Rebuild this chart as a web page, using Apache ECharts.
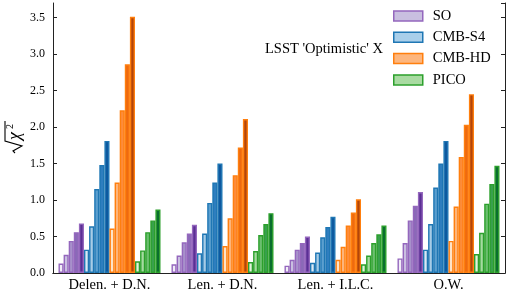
<!DOCTYPE html>
<html>
<head>
<meta charset="utf-8">
<script src="https://cdn.jsdelivr.net/npm/echarts@6/dist/echarts.min.js"></script>
<style>
html,body{margin:0;padding:0;background:#fff;}
#chart{width:509px;height:296px;}
</style>
</head>
<body>
<div id="chart"></div>
<script>
// ---- data ----
const categories = ['Delen. + D.N.', 'Len. + D.N.', 'Len. + I.L.C.', 'O.W.'];
const experiments = ['SO', 'CMB-S4', 'CMB-HD', 'PICO'];
// values[group][shade]
const soValues   = [[0.13,0.25,0.44,0.56,0.68],[0.12,0.24,0.42,0.54,0.66],[0.10,0.18,0.32,0.41,0.50],[0.20,0.41,0.72,0.92,1.11]];
const s4Values   = [[0.32,0.64,1.15,1.48,1.81],[0.27,0.54,0.96,1.24,1.50],[0.14,0.28,0.49,0.63,0.77],[0.32,0.67,1.17,1.50,1.81]];
const hdValues   = [[0.61,1.24,2.23,2.86,3.51],[0.37,0.75,1.34,1.72,2.11],[0.18,0.36,0.65,0.83,1.01],[0.44,0.91,1.59,2.03,2.45]];
const picoValues = [[0.16,0.31,0.56,0.72,0.87],[0.15,0.30,0.52,0.67,0.82],[0.12,0.24,0.41,0.53,0.65],[0.26,0.55,0.95,1.22,1.47]];
const yTicks = [0,0.5,1.0,1.5,2.0,2.5,3.0,3.5];
const annotation = "LSST 'Optimistic' X";

// ---- styles ----
const edgeColors = ['#9467bd', '#1f77b4', '#ff7f0e', '#2ca02c'];
const faceShades = [
  ['#f1edf7', '#c9bfe0', '#a791ca', '#8a6ab7', '#5b2f95'],
  ['#dae9f5', '#a7cce6', '#5b9fcf', '#2e7ebf', '#0e599f'],
  ['#fee3c8', '#fdb47a', '#fd8c3a', '#ee6a10', '#b3450a'],
  ['#e2f3dd', '#a5daa0', '#6bbf6f', '#38a04d', '#0a6e2f']
];
const legendFaces = ['#c9bfe0', '#a9cfea', '#fdb67e', '#a9dba2'];
const allValues = [soValues, s4Values, hdValues, picoValues];
const FONT = 'Liberation Serif';

const series = [];
experiments.forEach((exp, e) => {
  for (let k = 0; k < 5; k++) {
    series.push({
      type: 'bar',
      name: k === 0 ? exp : exp + ' ' + k,
      data: categories.map((c, gi) => allValues[e][gi][k]),
      barWidth: 5.1,
      barGap: '0%',
      itemStyle: { color: faceShades[e][k], borderColor: edgeColors[e], borderWidth: 1.4 },
      emphasis: { disabled: true }
    });
  }
});

const chart = echarts.init(document.getElementById('chart'), null, { renderer: 'canvas' });
chart.setOption({
  animation: false,
  backgroundColor: '#fff',
  grid: { left: 53, right: 4, top: 3, bottom: 23 },
  legend: {
    orient: 'vertical',
    left: 393,
    top: 8.5,
    padding: 0,
    itemWidth: 29,
    itemHeight: 10,
    itemGap: 6.3,
    selectedMode: false,
    textStyle: { fontFamily: FONT, fontSize: 14.5, color: '#000', lineHeight: 14, padding: [0, 0, 0, 5] },
    data: experiments.map((exp, e) => ({
      name: exp,
      icon: 'rect',
      itemStyle: { color: legendFaces[e], borderColor: edgeColors[e], borderWidth: 1.5 }
    }))
  },
  xAxis: [
    {
      type: 'category', data: categories, position: 'bottom',
      axisLine: { lineStyle: { color: '#222', width: 1 } },
      axisTick: { inside: true, alignWithLabel: true, length: 4, lineStyle: { color: '#222' } },
      axisLabel: { fontFamily: FONT, fontSize: 14.5, color: '#000', margin: 5 },
      splitLine: { show: false }
    },
    {
      type: 'category', data: categories, position: 'top',
      axisLine: { lineStyle: { color: '#222', width: 1 } },
      axisTick: { inside: true, alignWithLabel: true, length: 4, lineStyle: { color: '#222' } },
      axisLabel: { show: false },
      splitLine: { show: false }
    }
  ],
  yAxis: [
    {
      type: 'value', min: 0, max: 3.7, interval: 0.5, position: 'left',
      axisLine: { show: true, lineStyle: { color: '#222', width: 1 } },
      axisTick: { show: true, inside: true, length: 4, lineStyle: { color: '#222' } },
      axisLabel: {
        fontFamily: FONT, fontSize: 12, color: '#000', margin: 8, showMaxLabel: false,
        formatter: v => (yTicks.some(t => Math.abs(t - v) < 1e-9) ? v.toFixed(1) : '')
      },
      splitLine: { show: false }
    },
    {
      type: 'value', min: 0, max: 3.7, interval: 0.5, position: 'right',
      axisLine: { show: true, lineStyle: { color: '#222', width: 1 } },
      axisTick: { show: true, inside: true, length: 4, lineStyle: { color: '#222' } },
      axisLabel: { show: false },
      splitLine: { show: false }
    }
  ],
  series: series,
  graphic: [
    {
      type: 'text', left: 265, top: 42,
      style: { text: annotation, font: '14.5px "Liberation Serif"', fill: '#000' }
    },
    {
      type: 'group', x: 20, y: 153, rotation: Math.PI / 2,
      children: [
        { type: 'polyline', shape: { points: [[0, -5], [2, -7], [7, 2], [12, -15], [32, -15]] },
          style: { stroke: '#000', lineWidth: 1.1, fill: null } },
        { type: 'text', x: 13, y: -5,
          style: { text: 'χ', font: 'italic 18px "Liberation Serif"', fill: '#000', verticalAlign: 'middle' } },
        { type: 'text', x: 24, y: -10,
          style: { text: '2', font: '10px "Liberation Serif"', fill: '#000', verticalAlign: 'middle' } }
      ]
    }
  ]
});
</script>
</body>
</html>
